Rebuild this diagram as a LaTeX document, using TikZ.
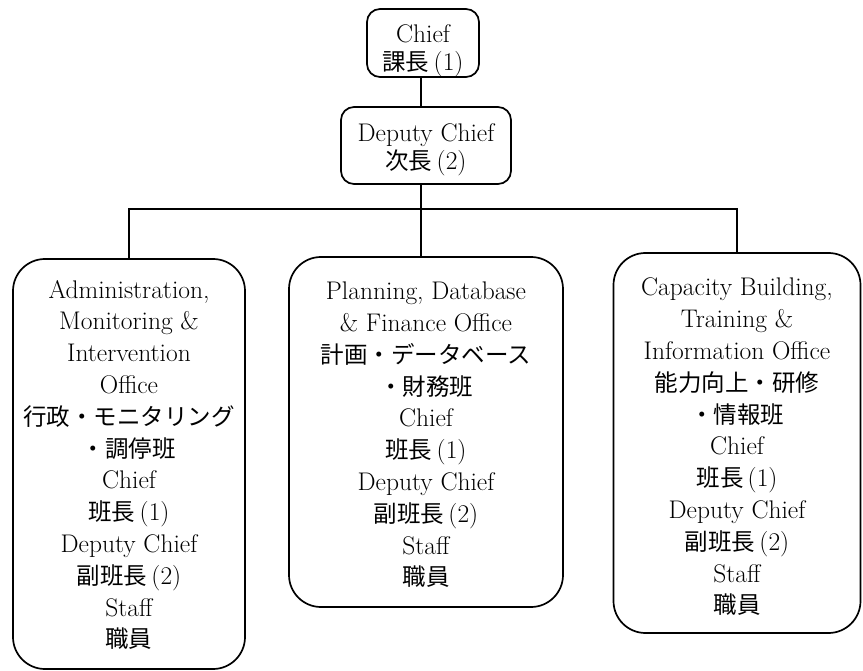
\documentclass[tikz,border=0pt]{standalone}
\usepackage{fontspec}
\newfontfamily\jpfont{Noto Sans CJK JP}
\newcommand{\jp}[1]{{\jpfont\fontsize{23.5}{23.5}\selectfont #1}}
\begin{document}
\begin{tikzpicture}[x=1pt,y=-1pt,
  box/.style={draw, line width=1.7pt, rounded corners=32pt, inner sep=0pt},
  topbox/.style={draw, line width=1.7pt, rounded corners=13pt, inner sep=0pt},
  bigtxt/.style={align=center, inner sep=0pt, font=\fontsize{25.5}{31.8}\selectfont},
  toptxt/.style={align=center, inner sep=0pt, font=\fontsize{25.5}{28}\selectfont},
  link/.style={line width=1.7pt}]
\useasboundingbox (0,0) rectangle (863,671);
\node[topbox, minimum width=112pt, minimum height=68pt] (chief) at (423,43) {};
\node[toptxt] (chiefT) at (423,51) {Chief\\\jp{課長}\,(1)};
\node[topbox, minimum width=170pt, minimum height=77pt] (deputy) at (426,145.5) {};
\node[toptxt] (deputyT) at (426,150) {Deputy Chief\\\jp{次長}\,(2)};
\node[box, minimum width=232pt, minimum height=410pt] (left) at (129,464) {};
\node[bigtxt] (leftT) at (129,465) {Administration,\\Monitoring \&\\Intervention\\Office\\\jp{行政・モニタリング}\\\jp{・調停班}\\Chief\\\jp{班長}\,(1)\\Deputy Chief\\\jp{副班長}\,(2)\\Staff\\\jp{職員}};
\node[box, minimum width=274pt, minimum height=350pt] (mid) at (426,432) {};
\node[bigtxt] (midT) at (426,435) {Planning, Database\\\& Finance Office\\\jp{計画・データベース}\\\jp{・財務班}\\Chief\\\jp{班長}\,(1)\\Deputy Chief\\\jp{副班長}\,(2)\\Staff\\\jp{職員}};
\node[box, minimum width=247pt, minimum height=380pt] (right) at (737,443) {};
\node[bigtxt] (rightT) at (737,447) {Capacity Building,\\Training \&\\Information Office\\\jp{能力向上・研修}\\\jp{・情報班}\\Chief\\\jp{班長}\,(1)\\Deputy Chief\\\jp{副班長}\,(2)\\Staff\\\jp{職員}};
\coordinate (bus) at (421,209);
\draw[link] (chief.south -| bus) -- (deputy.north -| bus);
\draw[link] (deputy.south -| bus) -- (bus);
\draw[link] (bus) -- (bus |- mid.north);
\draw[link] (left.north) |- (bus) -| (right.north);
\end{tikzpicture}
\end{document}
